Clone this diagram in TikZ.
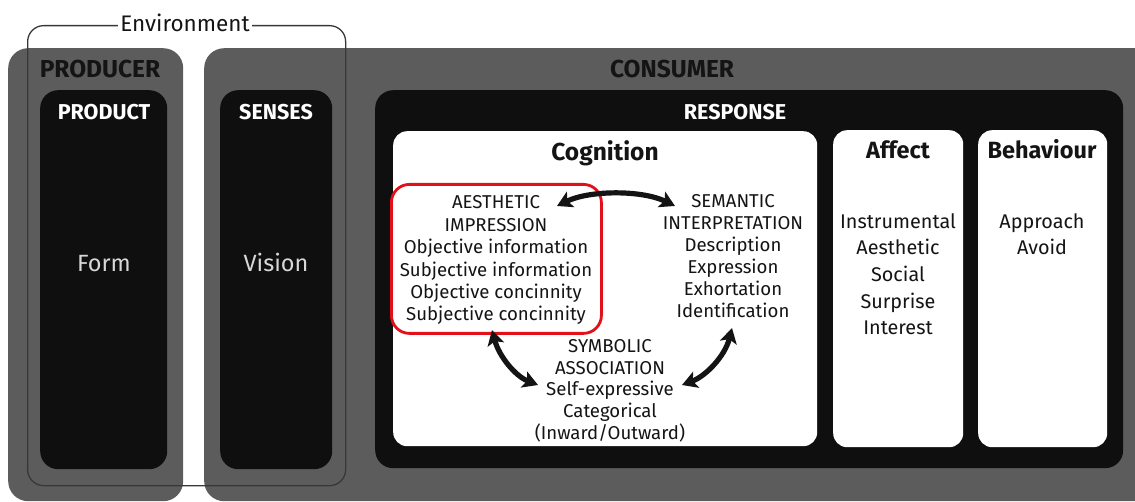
\documentclass[tikz,border=0pt]{standalone}
\usepackage{fontspec}
\setmainfont{Fira Sans}
\usetikzlibrary{arrows.meta}
\definecolor{boxgray}{HTML}{5C5C5C}
\definecolor{boxblack}{HTML}{0F0F0F}
\definecolor{envline}{HTML}{383838}
\definecolor{redline}{HTML}{E3101A}
\definecolor{ink}{HTML}{141414}
\definecolor{lighttext}{HTML}{D8D8D8}
\tikzset{
  panel/.style={anchor=north west, inner sep=0pt, draw=none},
  graybox/.style={panel, fill=boxgray, rounded corners=20pt},
  blackbox/.style={panel, fill=boxblack, rounded corners=18pt},
  whitebox/.style={panel, fill=white, rounded corners=14pt},
  hdr/.style={anchor=base, inner sep=0pt, font=\fontsize{21.5}{24}\selectfont\bfseries},
  hdrdark/.style={anchor=base, inner sep=0pt, text=ink, font=\fontsize{24.5}{28}\selectfont\bfseries},
  hdrlight/.style={hdr, text=white},
  colhdr/.style={anchor=base, inner sep=0pt, text=ink, font=\fontsize{23.5}{26}\selectfont\bfseries},
  body/.style={anchor=base, inner sep=0pt, align=center, text=ink, font=\fontsize{18.6}{22.4}\selectfont},
  listbody/.style={body, font=\fontsize{19.8}{26.7}\selectfont},
  bigword/.style={anchor=base, inner sep=0pt, text=lighttext, font=\fontsize{23.5}{26}\selectfont},
  dbl/.style={line width=5.2pt, ink, {Stealth[length=15pt,width=17pt,inset=3.5pt]}-{Stealth[length=15pt,width=17pt,inset=3.5pt]}},
}
\begin{document}
\begin{tikzpicture}[x=1pt,y=-1pt]
\useasboundingbox (0,0) rectangle (1135,502);
\clip (0,0) rectangle (1135,502);
% outer gray panels
\node[graybox, minimum width=175pt, minimum height=453pt] (producer) at (8,48) {};
\node[graybox, minimum width=960pt, minimum height=453pt] (consumer) at (204,48) {};
% black panels
\node[blackbox, minimum width=127pt, minimum height=379pt] (product) at (40,90) {};
\node[blackbox, minimum width=112pt, minimum height=379pt] (senses) at (220,90) {};
\node[blackbox, minimum width=748pt, minimum height=378pt] (response) at (375,90) {};
% white panels
\node[whitebox, minimum width=424pt, minimum height=315pt] (cognition) at (393,131) {};
\node[whitebox, minimum width=130pt, minimum height=317pt] (affect) at (833,130) {};
\node[whitebox, minimum width=129pt, minimum height=317pt] (behaviour) at (978,130) {};
% environment frame
\node[panel, draw=envline, line width=1.3pt, rounded corners=16pt, minimum width=318pt, minimum height=460pt] (envframe) at (27,25) {};
\node[anchor=base, fill=white, inner xsep=2pt, inner ysep=1pt, text=ink, font=\fontsize{22.5}{26}\selectfont] (envlabel) at (185,32) {Environment};
% headings
\node[hdrdark] (producerlbl) at (100,78) {PRODUCER};
\node[hdrdark] (consumerlbl) at (672,78) {CONSUMER};
\node[hdrlight] (productlbl) at (104,120) {PRODUCT};
\node[hdrlight] (senseslbl) at (276,120) {SENSES};
\node[hdrlight] (responselbl) at (735,120) {RESPONSE};
\node[bigword] (form) at (104,272) {Form};
\node[bigword] (vision) at (276,272) {Vision};
\node[anchor=base, inner sep=0pt, text=ink, font=\fontsize{24.5}{28}\selectfont\bfseries] (cognitionlbl) at (605,161) {Cognition};
\node[colhdr] (affectlbl) at (898,159) {Affect};
\node[colhdr] (behaviourlbl) at (1042,159) {Behaviour};
% cognition content (base = last line)
\node[body] (aesthetic) at (496,321) {AESTHETIC\\IMPRESSION\\Objective information\\Subjective information\\Objective concinnity\\Subjective concinnity};
\node[body, font=\fontsize{18.6}{22}\selectfont] (semantic) at (733,318) {SEMANTIC\\INTERPRETATION\\Description\\Expression\\Exhortation\\Identification};
\node[body, font=\fontsize{18.6}{21.6}\selectfont] (symbolic) at (610,439) {SYMBOLIC\\ASSOCIATION\\Self-expressive\\Categorical\\(Inward/Outward)};
\node[listbody] (affectlist) at (898,335) {Instrumental\\Aesthetic\\Social\\Surprise\\Interest};
\node[listbody] (behaviourlist) at (1042,255) {Approach\\Avoid};
% highlight
\node[panel, draw=redline, line width=2.8pt, rounded corners=18pt, minimum width=210pt, minimum height=149pt] (highlight) at (390,183) {};
% arrows
\coordinate (aesR) at (557,206);
\coordinate (semL) at (675,206);
\coordinate (aesB) at (492,330);
\coordinate (symL) at (538,385);
\coordinate (semB) at (732,328);
\coordinate (symR) at (682,385);
\draw[dbl] (aesR) .. controls (590,190) and (642,190) .. (semL);
\draw[dbl] (aesB) .. controls (499,356) and (515,376) .. (symL);
\draw[dbl] (semB) .. controls (725,356) and (706,376) .. (symR);
\end{tikzpicture}
\end{document}
